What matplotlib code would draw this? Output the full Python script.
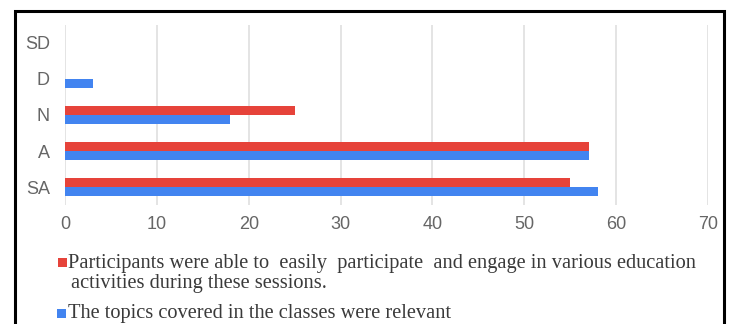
import matplotlib
matplotlib.use("Agg")
import matplotlib.pyplot as plt
from matplotlib.patches import Rectangle
import numpy as np

categories = ["SA", "A", "N", "D", "SD"]
engage_values = [55, 57, 25, 0, 0]
relevant_values = [58, 57, 18, 3, 0]
x_ticks = [0, 10, 20, 30, 40, 50, 60, 70]
series_labels = [
    ["Participants were able to  easily  participate  and engage in various education",
     "activities during these sessions."],
    ["The topics covered in the classes were relevant"],
]

RED = "#e6433a"
BLUE = "#4284f0"
W, H = 732, 324

fig = plt.figure(figsize=(W / 100, H / 100), dpi=100)
fig.patch.set_facecolor("white")

ax = fig.add_axes([65 / W, (H - 205) / H, (708 - 65) / W, 180 / H])
y = np.arange(len(categories))
bh = 0.245
ax.barh(y + bh / 2, engage_values, height=bh, color=RED, zorder=3)
ax.barh(y - bh / 2, relevant_values, height=bh, color=BLUE, zorder=3)

ax.set_xlim(0, 70)
ax.set_ylim(-0.5, 4.5)
ax.set_xticks(x_ticks)
ax.set_xticklabels([str(t) for t in x_ticks])
ax.set_yticks(y)
ax.set_yticklabels(categories)
for lab in ax.get_xticklabels() + ax.get_yticklabels():
    lab.set_fontfamily("Liberation Sans")
    lab.set_fontsize(13)
    lab.set_color("#666666")
ax.tick_params(axis="both", length=0)
ax.tick_params(axis="x", pad=8)
ax.tick_params(axis="y", pad=11)
ax.grid(axis="x", color="#e2e2e2", linewidth=1.3, zorder=0)
for s in ax.spines.values():
    s.set_visible(False)

# legend drawn by hand: square swatches beside serif labels
def fx(px):
    return px / W

def fy(py):
    return 1 - py / H

legend_rows = [
    (RED, 58, 258, series_labels[0], [268, 288]),
    (BLUE, 57, 309, series_labels[1], [318]),
]
for color, sx, stop, lines, baselines in legend_rows:
    fig.patches.append(Rectangle((fx(sx), fy(stop + 8.5)), 8.5 / W, 8.5 / H,
                                 transform=fig.transFigure, facecolor=color,
                                 edgecolor="none"))
    for i, (line, b) in enumerate(zip(lines, baselines)):
        fig.text(fx(68 if i == 0 else 71), fy(b), line, ha="left", va="baseline",
                 fontfamily="Liberation Serif", fontsize=14.7, color="#3a3a3a")

# outer black frame running off the bottom edge
fig.patches.append(Rectangle((fx(15), fy(400)), (724 - 15) / W, (400 - 11) / H,
                             transform=fig.transFigure, facecolor="none",
                             edgecolor="black", linewidth=2.2, clip_on=False))

fig.savefig("out.png", dpi=100)
